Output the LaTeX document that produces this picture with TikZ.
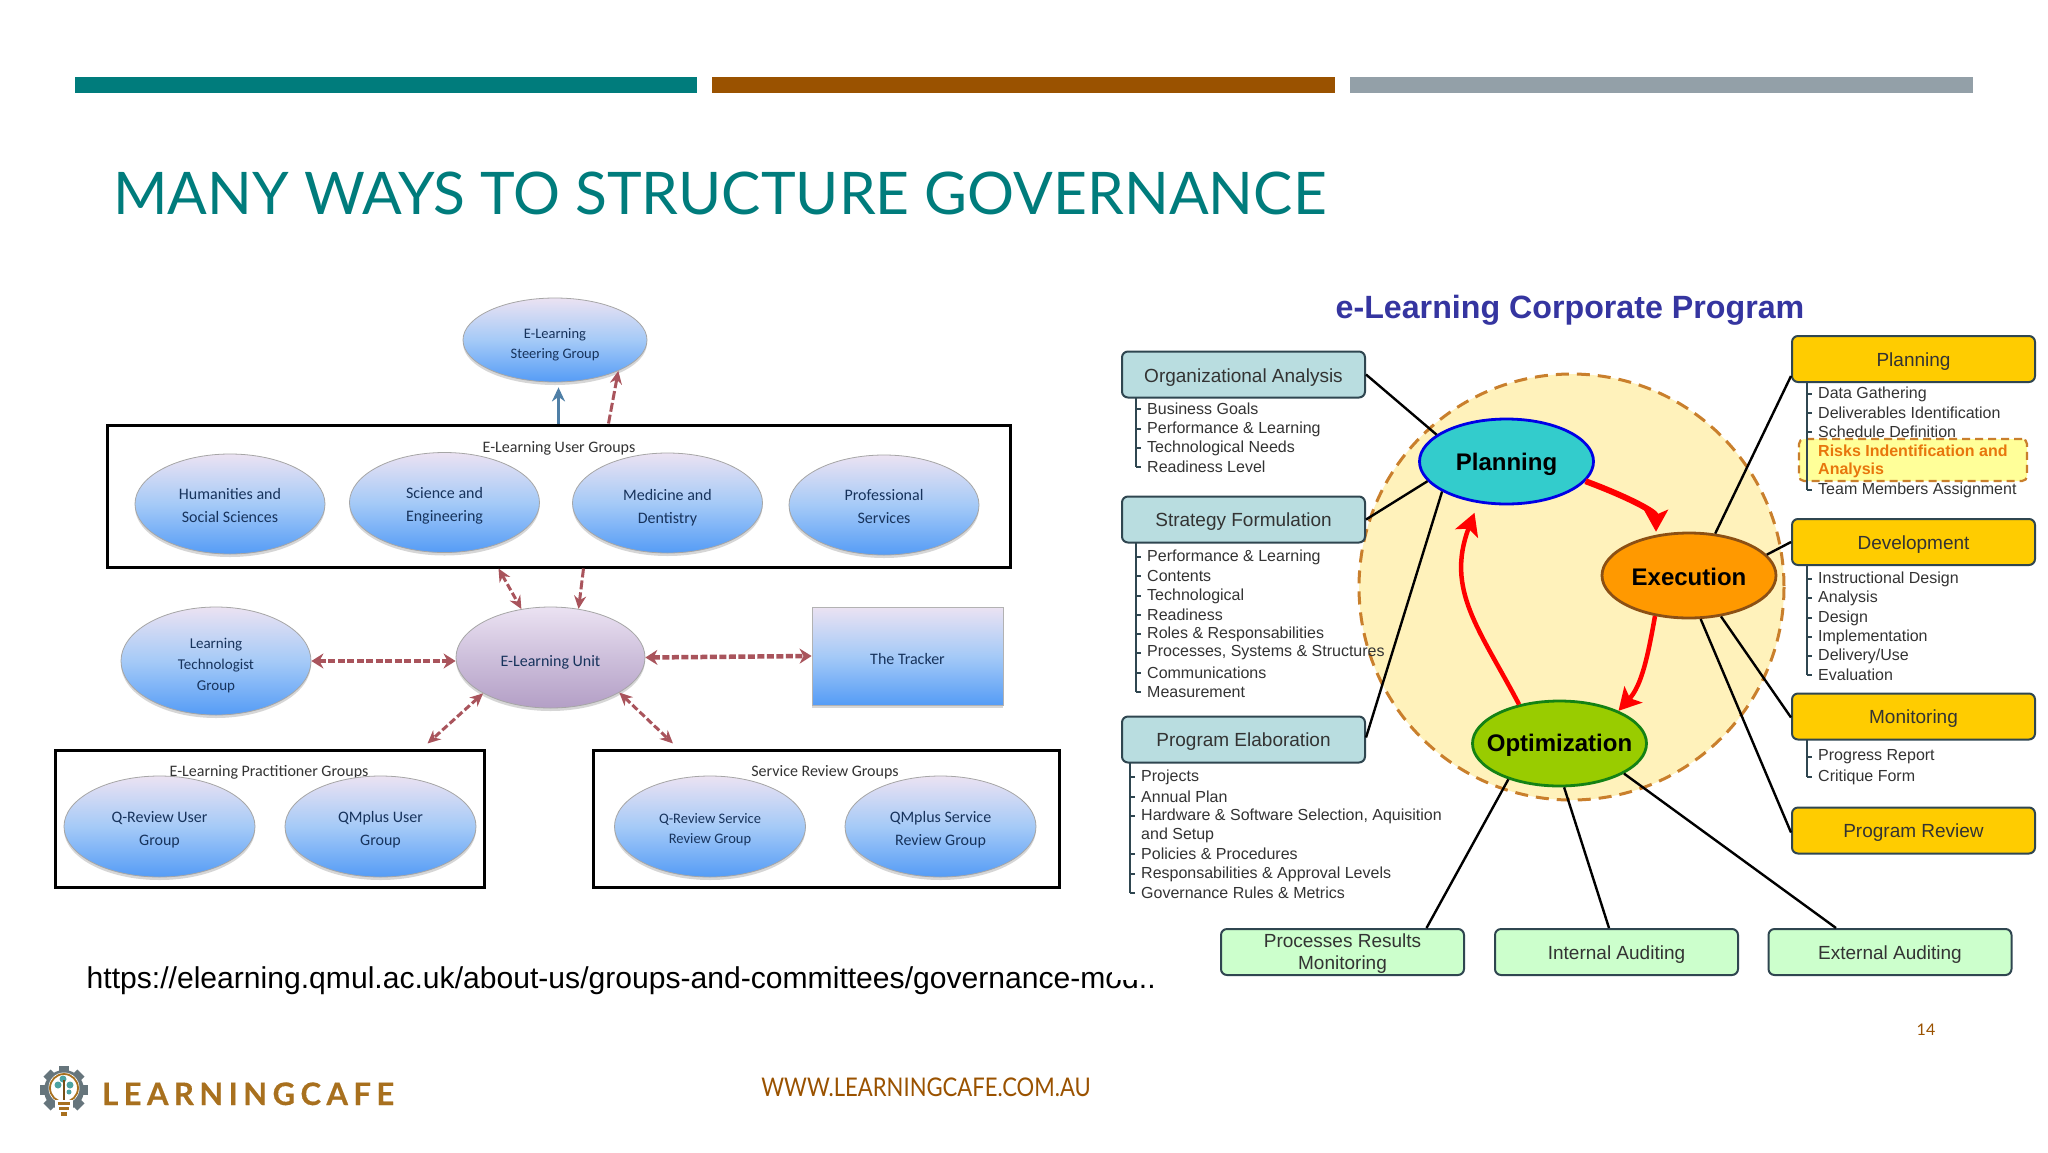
\documentclass[tikz,border=0pt]{standalone}
\usepackage{fontspec}
\usepackage{graphicx}
\setmainfont{Liberation Sans}
\newfontfamily\gill{Lato}
\newfontfamily\calb{Carlito}
\newfontfamily\logofont[LetterSpace=17.5,BoldFeatures={FakeBold=0.4}]{Lato}
\usetikzlibrary{shapes.geometric,arrows.meta,shadows,calc}
\newcommand\dn[2][3]{\makebox[0pt]{\raisebox{\dimexpr -#1pt - .25em\relax}[0pt][0pt]{\begin{tabular}{@{}c@{}}#2\end{tabular}}}}
\definecolor{teal1}{HTML}{007C7C}
\definecolor{brown1}{HTML}{9A5200}
\definecolor{grey1}{HTML}{93A0A8}
\definecolor{navy1}{HTML}{17335C}
\definecolor{dashred}{HTML}{A9545C}
\definecolor{linkblue}{HTML}{4F7FA6}
\definecolor{boxline}{HTML}{2F4650}
\definecolor{gold1}{HTML}{FFCC00}
\definecolor{aqua1}{HTML}{B9DDE0}
\definecolor{mint1}{HTML}{CCFFCC}
\definecolor{listtext}{HTML}{333333}
\definecolor{bloblilac}{HTML}{EBE2F2}
\definecolor{blobmid}{HTML}{A5CAF7}
\definecolor{blobblue}{HTML}{559CF6}
\definecolor{unitb}{HTML}{B49FC6}
\definecolor{unitm}{HTML}{CDBFDB}
\definecolor{ringfill}{HTML}{FFF2BB}
\definecolor{ringline}{HTML}{C97F2C}
\definecolor{logobrown}{HTML}{A8701E}
\definecolor{gear}{HTML}{66757C}
\definecolor{risktext}{HTML}{E8760C}
\tikzset{
  bar/.style={fill=#1,draw=none},
  softshadow/.style={drop shadow={shadow xshift=0pt,shadow yshift=-3pt,fill=black!45,opacity=.35}},
  blob/.style={ellipse,draw=gray!70,line width=.8pt,softshadow,top color=bloblilac,bottom color=blobblue,middle color=blobmid,inner sep=0pt,text=navy1,font=\calb\fontsize{16}{23}\selectfont},
  groupbox/.style={draw=black,line width=3pt,fill=white,inner sep=0pt},
  grouptitle/.style={font=\calb\fontsize{16}{18}\selectfont,text=black!80},
  dasharrow/.style={draw=dashred,line width=3pt,dash pattern=on 7pt off 3pt,{Stealth[length=13pt,width=12pt,fill=dashred]}-{Stealth[length=13pt,width=12pt,fill=dashred]}},
  dasharrowone/.style={draw=dashred,line width=3pt,dash pattern=on 9pt off 3pt,-{Stealth[length=13pt,width=12pt,fill=dashred]}},
  dasharrowh/.style={draw=dashred,line width=4.5pt,dash pattern=on 7pt off 2.5pt,{Stealth[length=12pt,width=15pt,fill=dashred]}-{Stealth[length=12pt,width=15pt,fill=dashred]}},
  cbox/.style={rounded corners=6pt,draw=boxline,line width=2pt,fill=#1,minimum width=243pt,minimum height=46pt,inner sep=0pt,text=listtext,font=\fontsize{19}{22}\selectfont},
  phase/.style={ellipse,line width=2.8pt,inner sep=0pt,minimum width=174pt,minimum height=85pt,font=\bfseries\fontsize{24}{28}\selectfont,text=black},
  item/.style={anchor=west,inner sep=0pt,text=listtext,font=\fontsize{16}{18}\selectfont},
  riskitem/.style={item,text=risktext,font=\bfseries\fontsize{16}{18}\selectfont},
  bracket/.style={draw=boxline,line width=1.6pt},
  link/.style={draw=black,line width=2.4pt},
  flow/.style={draw=red,line width=#1,-{Stealth[length=22pt,width=24pt,inset=5pt]}},
}
\begin{document}
\begin{tikzpicture}[x=1pt,y=-1pt]
\useasboundingbox (0,0) rectangle (2048,1152);
\fill[white] (0,0) rectangle (2048,1152);
% top bars
\fill[bar=teal1] (75,77) rectangle (697,92.5);
\fill[bar=brown1] (712,77) rectangle (1335,92.5);
\fill[bar=grey1] (1350,77) rectangle (1973,92.5);
\node[anchor=base west,inner sep=0pt,text=teal1] (title) at (113,214) {\resizebox{1213pt}{!}{\gill\fontsize{58}{60}\selectfont MANY WAYS TO STRUCTURE GOVERNANCE}};

% ---------- left diagram ----------
\node[blob,minimum width=184pt,minimum height=84pt,font=\calb\fontsize{14.5}{20}\selectfont] (steer) at (555,340) {\dn[4]{E-Learning\\Steering Group}};
\node[groupbox,minimum width=903pt,minimum height=142pt] (ug) at (558.5,496) {};
\node[grouptitle] (ugt) at (559,448) {E-Learning User Groups};
\node[blob,minimum width=190pt,minimum height=100pt] (hum) at (230,504) {\dn[2.6]{Humanities and\\Social Sciences}};
\node[blob,minimum width=190pt,minimum height=100pt] (sci) at (444.5,502.5) {\dn[3.3]{Science and\\Engineering}};
\node[blob,minimum width=190pt,minimum height=100pt] (med) at (667.5,503) {\dn[5]{Medicine and\\Dentistry}};
\node[blob,minimum width=190pt,minimum height=100pt] (pro) at (884,505) {\dn[3]{Professional\\Services}};
\node[blob,minimum width=190pt,minimum height=108pt,font=\calb\fontsize{15}{21}\selectfont] (lt) at (216,661) {\dn[4]{Learning\\Technologist\\Group}};
\node[ellipse,draw=gray!70,line width=.8pt,softshadow,top color=bloblilac,bottom color=unitb,middle color=unitm,minimum width=189pt,minimum height=101pt,inner sep=0pt,text=navy1,font=\calb\fontsize{16}{20}\selectfont] (unit) at (550.5,657.5) {\dn[5]{E-Learning Unit}};
\node[rectangle,draw=gray!60,line width=.8pt,softshadow,top color=bloblilac,bottom color=blobblue,middle color=blobmid,minimum width=191pt,minimum height=98pt,inner sep=0pt,text=navy1,font=\calb\fontsize{16}{20}\selectfont] (tracker) at (907.5,656) {\dn[5]{The Tracker}};

\node[groupbox,minimum width=429pt,minimum height=137pt] (pg) at (269.5,818.5) {};
\node[grouptitle] (pgt) at (269,772.5) {E-Learning Practitioner Groups};
\node[blob,minimum width=191pt,minimum height=101pt] (qru) at (159.5,826.5) {\dn{Q-Review User\\Group}};
\node[blob,minimum width=191pt,minimum height=101pt] (qmu) at (380.5,826.5) {\dn{QMplus User\\Group}};
\node[groupbox,minimum width=466pt,minimum height=137pt] (sg) at (826,818.5) {};
\node[grouptitle] (sgt) at (825,772.5) {Service Review Groups};
\node[blob,minimum width=191pt,minimum height=101pt,font=\calb\fontsize{14.5}{20}\selectfont] (qrs) at (710,826.5) {\dn{Q-Review Service\\Review Group}};
\node[blob,minimum width=191pt,minimum height=101pt] (qms) at (940.5,826.5) {\dn{QMplus Service\\Review Group}};

\coordinate (steerfoot) at (ug.north |- steer.south);
\draw[draw=linkblue,line width=3pt,-{Stealth[length=14pt,width=13pt]}] (ug.north) -- ([yshift=-5pt]steerfoot);
\draw[dasharrowone] ([xshift=50pt]ug.north) -- (steer.-26);
\draw[dasharrow] ([xshift=-60pt]ug.south) -- (unit.121);
\draw[dasharrowone] ([xshift=25pt]ug.south) -- (unit.60);
\draw[dasharrowh] (lt.east) -- (lt.east -| unit.west);
\draw[dasharrowh] (unit.east) -- (tracker.west);
\draw[dasharrow] (unit.208) -- ([xshift=158pt,yshift=5pt]pg.north);
\draw[dasharrow] (unit.-27) -- ([xshift=-153pt,yshift=5pt]sg.north);

\node[anchor=base west,inner sep=0pt,font=\fontsize{30.1}{31}\selectfont,text=black] (url) at (86.5,988) {https://elearning.qmul.ac.uk/about-us/groups-and-committees/governance-mod..};

% ---------- right diagram ----------
\fill[white] (1112,955) rectangle (1170,980);
\node[inner sep=0pt,text={rgb,255:red,53;green,53;blue,160},font=\bfseries\fontsize{32.2}{34}\selectfont] (ctitle) at (1570,310) {e-Learning Corporate Program};
\fill[ringfill] (1571.5,587) ellipse [x radius=212.5,y radius=213];
\draw[draw=ringline,line width=3pt,dash pattern=on 13pt off 8pt] (1571.5,587) ellipse [x radius=212.5,y radius=213];

\node[cbox=aqua1] (oa) at (1243.5,374.5) {\dn{Organizational Analysis}};
\node[cbox=aqua1] (sf) at (1243.5,519.5) {\dn[2]{Strategy Formulation}};
\node[cbox=aqua1] (pe) at (1243.5,739.5) {\dn[2]{Program Elaboration}};
\node[cbox=gold1] (rp) at (1913.5,359) {\dn{Planning}};
\node[cbox=gold1] (rd) at (1913.5,542) {\dn{Development}};
\node[cbox=gold1] (rm) at (1913.5,716.5) {\dn[2]{Monitoring}};
\node[cbox=gold1] (rr) at (1913.5,830.5) {\dn[2]{Program Review}};
\node[cbox=mint1,font=\fontsize{19}{22}\selectfont] (bp) at (1342.5,952) {\dn[1.5]{Processes Results\\Monitoring}};
\node[cbox=mint1] (bi) at (1616.5,952) {\dn{Internal Auditing}};
\node[cbox=mint1] (be) at (1890,952) {\dn{External Auditing}};

\node[phase,fill={rgb,255:red,51;green,204;blue,204},draw={rgb,255:red,0;green,0;blue,230}] (plan) at (1506.5,461.5) {\dn[4]{Planning}};
\node[phase,fill={rgb,255:red,255;green,153;blue,0},draw={rgb,255:red,140;green,80;blue,20}] (exec) at (1689,575.5) {\dn[4.5]{Execution}};
\node[phase,fill={rgb,255:red,153;green,204;blue,0},draw={rgb,255:red,20;green,130;blue,20}] (opt) at (1559.5,743.5) {\dn[3]{Optimization}};

% lists left
\foreach \y/\t in {409/Business Goals,429/Performance \& Learning,448/Technological Needs,467/Readiness Level}
  {\node[item] (a\y) at (1147,\y) {\t}; \draw[bracket] (1136,\y) -- (1141,\y);}
\draw[bracket] (1136,397) -- (1136,467);
\foreach \y/\t in {557/Performance \& Learning,576/Contents,596/Technological,615/Readiness,634/Roles \& Responsabilities,653/{Processes, Systems \& Structures},673/Communications,692/Measurement}
  {\node[item] (b\y) at (1147,\y) {\t}; \draw[bracket] (1136,\y) -- (1141,\y);}
\draw[bracket] (1136,542) -- (1136,692);
\foreach \y/\t in {777/Projects,797/Annual Plan,816/{Hardware \& Software Selection, Aquisition},854/Policies \& Procedures,874/Responsabilities \& Approval Levels,893/Governance Rules \& Metrics}
  {\node[item] (c\y) at (1141,\y) {\t}; \draw[bracket] (1130,\y) -- (1135,\y);}
\node[item] (c835) at (1141,835) {and Setup};
\draw[bracket] (1130,762) -- (1130,893);
% lists right
\node[rounded corners=5pt,draw=ringline,line width=2.2pt,dash pattern=on 8pt off 5pt,fill={rgb,255:red,255;green,255;blue,153},minimum width=228pt,minimum height=42pt] (risk) at (1913,460) {};
\foreach \y/\t in {394/Data Gathering,413/Deliverables Identification,432/Schedule Definition,490/Team Members Assignment}
  {\node[item] (d\y) at (1818,\y) {\t}; \draw[bracket] (1807,\y) -- (1812,\y);}
\node[riskitem] (r1) at (1818,451) {Risks Indentification and};
\node[riskitem] (r2) at (1818,470) {Analysis};
\draw[bracket] (1807,382) -- (1807,490);
\foreach \y/\t in {579/Instructional Design,598/Analysis,618/Design,637/Implementation,656/{Delivery/Use},675/Evaluation}
  {\node[item] (e\y) at (1818,\y) {\t}; \draw[bracket] (1807,\y) -- (1812,\y);}
\draw[bracket] (1807,565) -- (1807,675);
\foreach \y/\t in {757/Progress Report,777/Critique Form}
  {\node[item] (f\y) at (1818,\y) {\t}; \draw[bracket] (1807,\y) -- (1812,\y);}
\draw[bracket] (1807,739) -- (1807,777);

% black links
\draw[link] (oa.east) -- (plan.159);
\draw[link] (sf.east) -- (plan.194);
\draw[link] ([yshift=2pt]pe.east) -- (plan.205);
\draw[link] ([yshift=7pt]rp.south west) -- (exec.58);
\draw[link] (rd.west) -- (exec.15);
\draw[link] ([yshift=-1pt]rm.west) -- (exec.-52);
\draw[link] ([yshift=-2pt]rr.west) -- (exec.-75);
\draw[link] (opt.215) -- ([xshift=84pt]bp.north);
\draw[link] (opt.-84) -- ([xshift=-7.5pt]bi.north);
\draw[link] (opt.-25) -- ([xshift=-54pt]be.north);
% red flows
\draw[flow=6pt] (plan.-14) .. controls (1628,497) and (1656,512) .. ([yshift=3pt]exec.129);
\draw[flow=4.5pt] (exec.230) .. controls (1648,655) and (1642,685) .. (opt.29);
\draw[flow=4.5pt] (opt.136) .. controls (1480,630) and (1445,590) .. ([xshift=-2pt,yshift=-10pt]plan.234);

% footer
\node[text=brown1,inner sep=0pt,font=\gill\fontsize{16}{18}\selectfont] (page) at (1926,1030) {14};
\node[text=brown1,inner sep=0pt,font=\gill\fontsize{24.5}{26}\selectfont] (web) at (926,1087) {\scalebox{.9}[1.05]{WWW.LEARNINGCAFE.COM.AU}};
\node[anchor=base west,inner sep=0pt,text=logobrown,font=\logofont\bfseries\fontsize{31}{32}\selectfont] (logo) at (102,1105) {LEARNINGCAFE};
% logo mark
\foreach \a in {0,45,...,315}
  \fill[gear,rotate around={\a:(64,1090)}] (59,1066) rectangle (69,1076);
\fill[gear] (64,1090) circle (20);
\fill[white] (64,1088) circle (15.5);
\draw[logobrown,line width=1.8pt] (64,1088) circle (14);
\fill[teal1!70] (58,1085) circle (3.5) (70,1085) circle (3.5) (63,1079) circle (3.5) (69,1092) circle (2.5);
\draw[logobrown!70!black,line width=1.2pt] (64,1080) -- (64,1100);
\fill[white] (55,1100) rectangle (73,1118);
\fill[logobrown] (58,1102) rectangle (70,1105);
\fill[logobrown] (59,1107) rectangle (69,1110);
\fill[logobrown] (61,1112) rectangle (67,1116);
\end{tikzpicture}
\end{document}
